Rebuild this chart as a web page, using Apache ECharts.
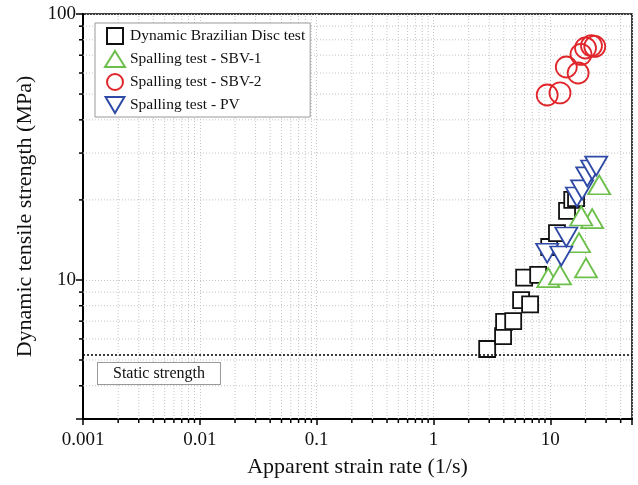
<!DOCTYPE html>
<html>
<head>
<meta charset="utf-8">
<script src="https://cdn.jsdelivr.net/npm/echarts@6/dist/echarts.min.js"></script>
<style>
  html, body { margin: 0; padding: 0; background: #fff; }
  #chart { width: 638px; height: 485px; }
</style>
</head>
<body>
<div id="chart"></div>
<script>
// axis ranges and ticks
const X_MIN = 0.001
const X_MAX = 50
const Y_MIN = 3
const Y_MAX = 100
const xTickLabels = ['0.001', '0.01', '0.1', '1', '10']
const yTickLabels = ['10', '100']
const xMinor = [0.002, 0.003, 0.004, 0.005, 0.006, 0.007, 0.008, 0.009,
	0.02, 0.03, 0.04, 0.05, 0.06, 0.07, 0.08, 0.09,
	0.2, 0.3, 0.4, 0.5, 0.6, 0.7, 0.8, 0.9,
	2, 3, 4, 5, 6, 7, 8, 9,
	20, 30, 40]
const yMinor = [4, 5, 6, 7, 8, 9, 20, 30, 40, 50, 60, 70, 80, 90]

const staticStrength = 5.22

// [strain rate (1/s), strength (MPa)]
const brazilian = [
	[2.88, 5.5], [3.94, 6.15], [4.02, 6.95], [4.81, 7.0], [5.62, 8.4], [6.71, 8.1],
	[5.97, 10.2], [7.87, 10.45], [9.78, 13.3], [11.4, 15.0], [13.9, 18.2], [15.4, 20.0], [16.6, 20.3],
]
const sbv1 = [
	[9.6, 10.2], [12.1, 10.45], [20.2, 11.1], [17.6, 13.8], [22.8, 17.0], [18.4, 17.4], [26.2, 22.8],
]
const sbv2 = [
	[9.4, 49.6], [12.1, 50.5], [13.7, 63.2], [17.3, 60.0], [18.3, 70.5], [20.0, 74.5], [22.5, 76.0], [24.0, 75.5],
]
const pv = [
	[9.4, 12.6], [12.4, 12.3], [13.7, 14.5], [16.9, 20.5], [18.7, 21.8], [20.7, 24.4], [22.8, 25.9], [24.7, 26.8],
]

const FONT = 'Liberation Serif'
const GRID_COLOR = '#c4c4c4'
const DOWN_TRIANGLE = 'path://M0,0L20,0L10,17Z'

const chart = echarts.init(document.getElementById('chart'))

// minor grid lines + minor ticks, placed through the axes' own log scales
const minorSeries = (values, isX) => ({
	type: 'custom',
	silent: true,
	z: 1,
	clip: false,
	data: values.map((v) => (isX ? [v, Y_MIN] : [X_MIN, v])),
	renderItem: (params, api) => {
		const v = isX ? api.value(0) : api.value(1)
		const a = isX ? api.coord([v, Y_MIN]) : api.coord([X_MIN, v])
		const b = isX ? api.coord([v, Y_MAX]) : api.coord([X_MAX, v])
		const tick = isX
			? { x1: a[0], y1: a[1], x2: a[0], y2: a[1] + 4 }
			: { x1: a[0], y1: a[1], x2: a[0] - 4, y2: a[1] }
		return {
			type: 'group',
			children: [
				{
					type: 'line',
					shape: { x1: a[0], y1: a[1], x2: b[0], y2: b[1] },
					style: { stroke: GRID_COLOR, lineWidth: 1, lineDash: [1, 2] },
				},
				{
					type: 'line',
					shape: tick,
					style: { stroke: '#000', lineWidth: 1.5 },
				},
			],
		}
	},
})

const labelFrom = (list) => (v) => {
	const s = list.find((t) => Math.abs(Number(t) - v) / v < 1e-6)
	return s || ''
}

const option = {
	backgroundColor: '#fff',
	animation: false,
	textStyle: { fontFamily: FONT },
	grid: {
		left: 83,
		right: 6,
		top: 14,
		bottom: 66,
		outerBoundsMode: 'none',
		show: true,
		borderColor: '#000',
		borderWidth: 1.5,
		backgroundColor: 'transparent',
	},
	legend: {
		left: 95,
		top: 23,
		orient: 'vertical',
		padding: [4, 5, 3, 9],
		itemGap: 5,
		itemWidth: 20,
		itemHeight: 16,
		borderColor: '#999',
		borderWidth: 1,
		backgroundColor: '#fff',
		textStyle: { fontFamily: FONT, fontSize: 15.5, color: '#111' },
		data: [
			{ name: 'Dynamic Brazilian Disc test', icon: 'path://M0,0L10,0L10,10L0,10Z' },
			{ name: 'Spalling test - SBV-1', icon: 'triangle' },
			{ name: 'Spalling test - SBV-2', icon: 'circle' },
			{ name: 'Spalling test - PV', icon: DOWN_TRIANGLE },
		],
	},
	xAxis: {
		type: 'log',
		logBase: 10,
		min: X_MIN,
		max: X_MAX,
		name: 'Apparent strain rate (1/s)',
		nameLocation: 'middle',
		nameGap: 37,
		nameTextStyle: { fontFamily: FONT, fontSize: 22, color: '#111' },
		axisLine: { lineStyle: { color: '#000', width: 2 } },
		axisTick: { inside: false, length: 6, lineStyle: { color: '#000', width: 1.5 } },
		axisLabel: {
			fontFamily: FONT,
			fontSize: 19,
			color: '#111',
			margin: 12,
			formatter: labelFrom(xTickLabels),
		},
		splitLine: { show: true, lineStyle: { color: GRID_COLOR, type: [1, 2], width: 1 } },
	},
	yAxis: {
		type: 'log',
		logBase: 10,
		min: Y_MIN,
		max: Y_MAX,
		name: 'Dynamic tensile strength (MPa)',
		nameLocation: 'middle',
		nameGap: 47,
		nameTextStyle: { fontFamily: FONT, fontSize: 22, color: '#111' },
		axisLine: { lineStyle: { color: '#000', width: 2 } },
		axisTick: { inside: false, length: 7, lineStyle: { color: '#000', width: 1.5 } },
		axisLabel: {
			fontFamily: FONT,
			fontSize: 19,
			color: '#111',
			margin: 7,
			formatter: labelFrom(yTickLabels),
		},
		splitLine: { show: true, lineStyle: { color: GRID_COLOR, type: [1, 2], width: 1 } },
	},
	series: [
		minorSeries(xMinor, true),
		minorSeries(yMinor, false),
		{
			name: 'Dynamic Brazilian Disc test',
			type: 'scatter',
			z: 3,
			symbol: 'rect',
			symbolSize: 16,
			data: brazilian,
			itemStyle: { color: '#fff', borderColor: '#111', borderWidth: 1.8, opacity: 1 },
			markLine: {
				silent: true,
				symbol: 'none',
				lineStyle: { color: '#000', type: [2, 2], width: 1.5 },
				label: {
					show: true,
					position: 'insideStartBottom',
					formatter: 'Static strength',
					fontFamily: FONT,
					fontSize: 16,
					color: '#111',
					backgroundColor: '#fff',
					borderColor: '#999',
					borderWidth: 1,
					padding: [3, 15, 2, 15],
					distance: [15, 8],
				},
				data: [{ yAxis: staticStrength }],
			},
		},
		{
			name: 'Spalling test - SBV-1',
			type: 'scatter',
			z: 4,
			symbol: 'triangle',
			symbolSize: [22, 19],
			data: sbv1,
			itemStyle: { color: '#fff', borderColor: '#6cbf4a', borderWidth: 1.8, opacity: 1 },
		},
		{
			name: 'Spalling test - SBV-2',
			type: 'scatter',
			z: 5,
			symbol: 'circle',
			symbolSize: 21,
			data: sbv2,
			itemStyle: { color: 'rgba(255,255,255,0)', borderColor: '#e0262b', borderWidth: 1.8, opacity: 1 },
		},
		{
			name: 'Spalling test - PV',
			type: 'scatter',
			z: 6,
			symbol: DOWN_TRIANGLE,
			symbolSize: [22, 19],
			data: pv,
			itemStyle: { color: '#fff', borderColor: '#2f4aa6', borderWidth: 1.8, opacity: 1 },
		},
	],
}

chart.setOption(option)
</script>
</body>
</html>
